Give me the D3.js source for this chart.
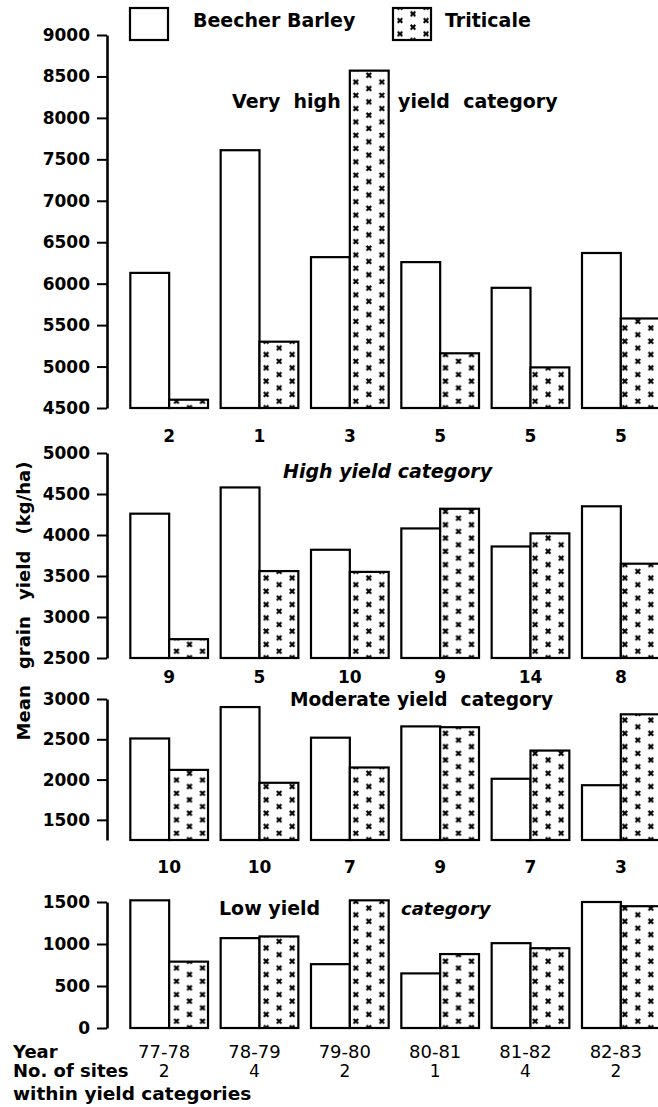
<!DOCTYPE html>
<html>
<head>
<meta charset="utf-8">
<script src="https://cdn.jsdelivr.net/npm/d3@7"></script>
<style>
  body { margin: 0; background: #fff; }
  svg { display: block; font-family: "DejaVu Sans", sans-serif; }
</style>
</head>
<body>
<div id="chart"></div>
<script>
// Years and number of sites per yield category
const years = ["77-78", "78-79", "79-80", "80-81", "81-82", "82-83"];
const sitesVeryHigh = [2, 1, 3, 5, 5, 5];
const sitesHigh = [9, 5, 10, 9, 14, 8];
const sitesModerate = [10, 10, 7, 9, 7, 3];
const sitesLow = [2, 4, 2, 1, 4, 2];

// Mean grain yield (kg/ha)
const barleyVeryHigh = [6130, 7610, 6320, 6260, 5950, 6370];
const triticaleVeryHigh = [4600, 5300, 8570, 5160, 4990, 5580];
const barleyHigh = [4260, 4580, 3820, 4080, 3860, 4350];
const triticaleHigh = [2730, 3560, 3550, 4320, 4020, 3650];
const barleyModerate = [2510, 2900, 2520, 2660, 2010, 1930];
const triticaleModerate = [2120, 1960, 2150, 2650, 2360, 2810];
const barleyLow = [1520, 1070, 760, 650, 1010, 1500];
const triticaleLow = [790, 1090, 1520, 880, 950, 1450];

const series = ["Beecher Barley", "Triticale"];

const width = 658, height = 1107;
const axisX = 107;

const svg = d3.select("#chart").append("svg")
    .attr("width", width)
    .attr("height", height);

const defs = svg.append("defs");

const x0 = d3.scaleBand()
    .domain(years)
    .range([124, 666])
    .paddingInner(0.14)
    .paddingOuter(0.07);

const x1 = d3.scaleBand()
    .domain(series)
    .range([0, x0.bandwidth()]);

// one panel per yield category
const panels = [
    { id: "vh", domain: [4500, 9000], range: [408, 35], ticks: d3.range(4500, 9001, 500),
      barley: barleyVeryHigh, triticale: triticaleVeryHigh, sites: sitesVeryHigh, labelY: 442 },
    { id: "hi", domain: [2500, 5000], range: [658, 453], ticks: d3.range(2500, 5001, 500),
      barley: barleyHigh, triticale: triticaleHigh, sites: sitesHigh, labelY: 683 },
    { id: "mo", domain: [1250, 3000], range: [840, 699], ticks: d3.range(1500, 3001, 500),
      barley: barleyModerate, triticale: triticaleModerate, sites: sitesModerate, labelY: 873 },
    { id: "lo", domain: [0, 1500], range: [1028, 902], ticks: d3.range(0, 1501, 500),
      barley: barleyLow, triticale: triticaleLow, sites: null, labelY: null }
];

function makePattern(id, px, py) {
    const p = defs.append("pattern")
        .attr("id", id)
        .attr("patternUnits", "userSpaceOnUse")
        .attr("x", px)
        .attr("y", py)
        .attr("width", 26)
        .attr("height", 13.3);
    p.append("rect").attr("width", 26).attr("height", 13.3).attr("fill", "#fff");
    [[7, 3.2], [20, 9.8]].forEach(([cx, cy]) => {
        p.append("path")
            .attr("d", `M${cx - 2.3},${cy - 2.3}L${cx + 2.3},${cy + 2.3}M${cx + 2.3},${cy - 2.3}L${cx - 2.3},${cy + 2.3}`)
            .attr("stroke", "#000")
            .attr("stroke-width", 2.1);
    });
}

panels.forEach(pn => {
    const y = d3.scaleLinear().domain(pn.domain).range(pn.range);
    const base = y(pn.domain[0]);

    const g = svg.append("g");

    // y axis
    const axis = g.append("g")
        .attr("transform", `translate(${axisX},0)`)
        .call(d3.axisLeft(y).tickValues(pn.ticks).tickSize(10).tickSizeOuter(0).tickPadding(7).tickFormat(d3.format("d")));
    axis.select(".domain").attr("stroke-width", 2.6);
    axis.selectAll(".tick line").attr("stroke-width", 2);
    axis.selectAll(".tick text")
        .attr("font-size", 17)
        .attr("font-weight", "bold")
        .attr("fill", "#000")
        .attr("font-family", "DejaVu Sans");

    const rows = years.map((yr, i) => ({ year: yr, i: i, values: [pn.barley[i], pn.triticale[i]] }));

    const groups = g.selectAll("g.grp")
        .data(rows)
        .enter()
        .append("g")
        .attr("class", "grp")
        .attr("transform", d => `translate(${x0(d.year)},0)`);

    groups.each(function (d) {
        makePattern(`pat-${pn.id}-${d.i}`, x0(d.year) + x1("Triticale"), base + 3.3);
    });

    groups.selectAll("rect")
        .data(d => series.map((s, k) => ({ s: s, v: d.values[k], i: d.i })))
        .enter()
        .append("rect")
        .attr("x", d => x1(d.s))
        .attr("y", d => y(d.v))
        .attr("width", x1.bandwidth())
        .attr("height", d => base - y(d.v))
        .attr("fill", d => d.s === "Triticale" ? `url(#pat-${pn.id}-${d.i})` : "#fff")
        .attr("stroke", "#000")
        .attr("stroke-width", 2.2);

    if (pn.sites) {
        g.selectAll("text.sites")
            .data(pn.sites)
            .enter()
            .append("text")
            .attr("class", "sites")
            .attr("x", (d, i) => x0(years[i]) + x0.bandwidth() / 2)
            .attr("y", pn.labelY)
            .attr("text-anchor", "middle")
            .attr("font-size", 17)
            .attr("font-weight", "bold")
            .text(d => d);
    }
});

// panel titles
const titles = [
    { text: "Very  high", x: 232, y: 108, size: 19, style: "normal" },
    { text: "yield  category", x: 398, y: 108, size: 19, style: "normal" },
    { text: "High yield category", x: 283, y: 478, size: 19, style: "italic" },
    { text: "Moderate yield  category", x: 290, y: 706, size: 18.6, style: "normal" },
    { text: "Low yield", x: 219, y: 915, size: 19, style: "normal" },
    { text: "category", x: 401, y: 915, size: 18, style: "italic" }
];
svg.selectAll("text.title")
    .data(titles)
    .enter()
    .append("text")
    .attr("class", "title")
    .attr("x", d => d.x)
    .attr("y", d => d.y)
    .attr("font-size", d => d.size)
    .attr("font-weight", "bold")
    .attr("font-style", d => d.style)
    .style("white-space", "pre")
    .text(d => d.text);

// legend
const legend = svg.append("g");
makePattern("pat-legend", 393, 44);
legend.append("rect").attr("x", 130).attr("y", 8).attr("width", 38).attr("height", 32)
    .attr("fill", "#fff").attr("stroke", "#000").attr("stroke-width", 2.2);
legend.append("text").attr("x", 193).attr("y", 27).attr("font-size", 19).attr("font-weight", "bold")
    .text(series[0]);
legend.append("rect").attr("x", 393).attr("y", 8).attr("width", 38).attr("height", 32)
    .attr("fill", "url(#pat-legend)").attr("stroke", "#000").attr("stroke-width", 2.2);
legend.append("text").attr("x", 445).attr("y", 27).attr("font-size", 19).attr("font-weight", "bold")
    .text(series[1]);

// y axis title
svg.append("text")
    .attr("transform", "translate(30,601) rotate(-90)")
    .attr("text-anchor", "middle")
    .attr("font-size", 18)
    .attr("font-weight", "bold")
    .attr("word-spacing", 10)
    .text("Mean grain yield (kg/ha)");

// bottom rows: years and number of sites
svg.append("text").attr("x", 13).attr("y", 1058).attr("font-size", 18).attr("font-weight", "bold").text("Year");
svg.append("text").attr("x", 13).attr("y", 1077).attr("font-size", 18).attr("font-weight", "bold").text("No. of sites");
svg.append("text").attr("x", 13).attr("y", 1100).attr("font-size", 18.5).attr("font-weight", "bold").text("within  yield categories");

svg.selectAll("text.year")
    .data(years)
    .enter()
    .append("text")
    .attr("class", "year")
    .attr("x", d => x0(d) + x0.bandwidth() / 2 - 5)
    .attr("y", 1058)
    .attr("text-anchor", "middle")
    .attr("font-size", 18)
    .text(d => d);

svg.selectAll("text.lowsites")
    .data(sitesLow)
    .enter()
    .append("text")
    .attr("class", "lowsites")
    .attr("x", (d, i) => x0(years[i]) + x0.bandwidth() / 2 - 5)
    .attr("y", 1077)
    .attr("text-anchor", "middle")
    .attr("font-size", 17)
    .text(d => d);
</script>
</body>
</html>
